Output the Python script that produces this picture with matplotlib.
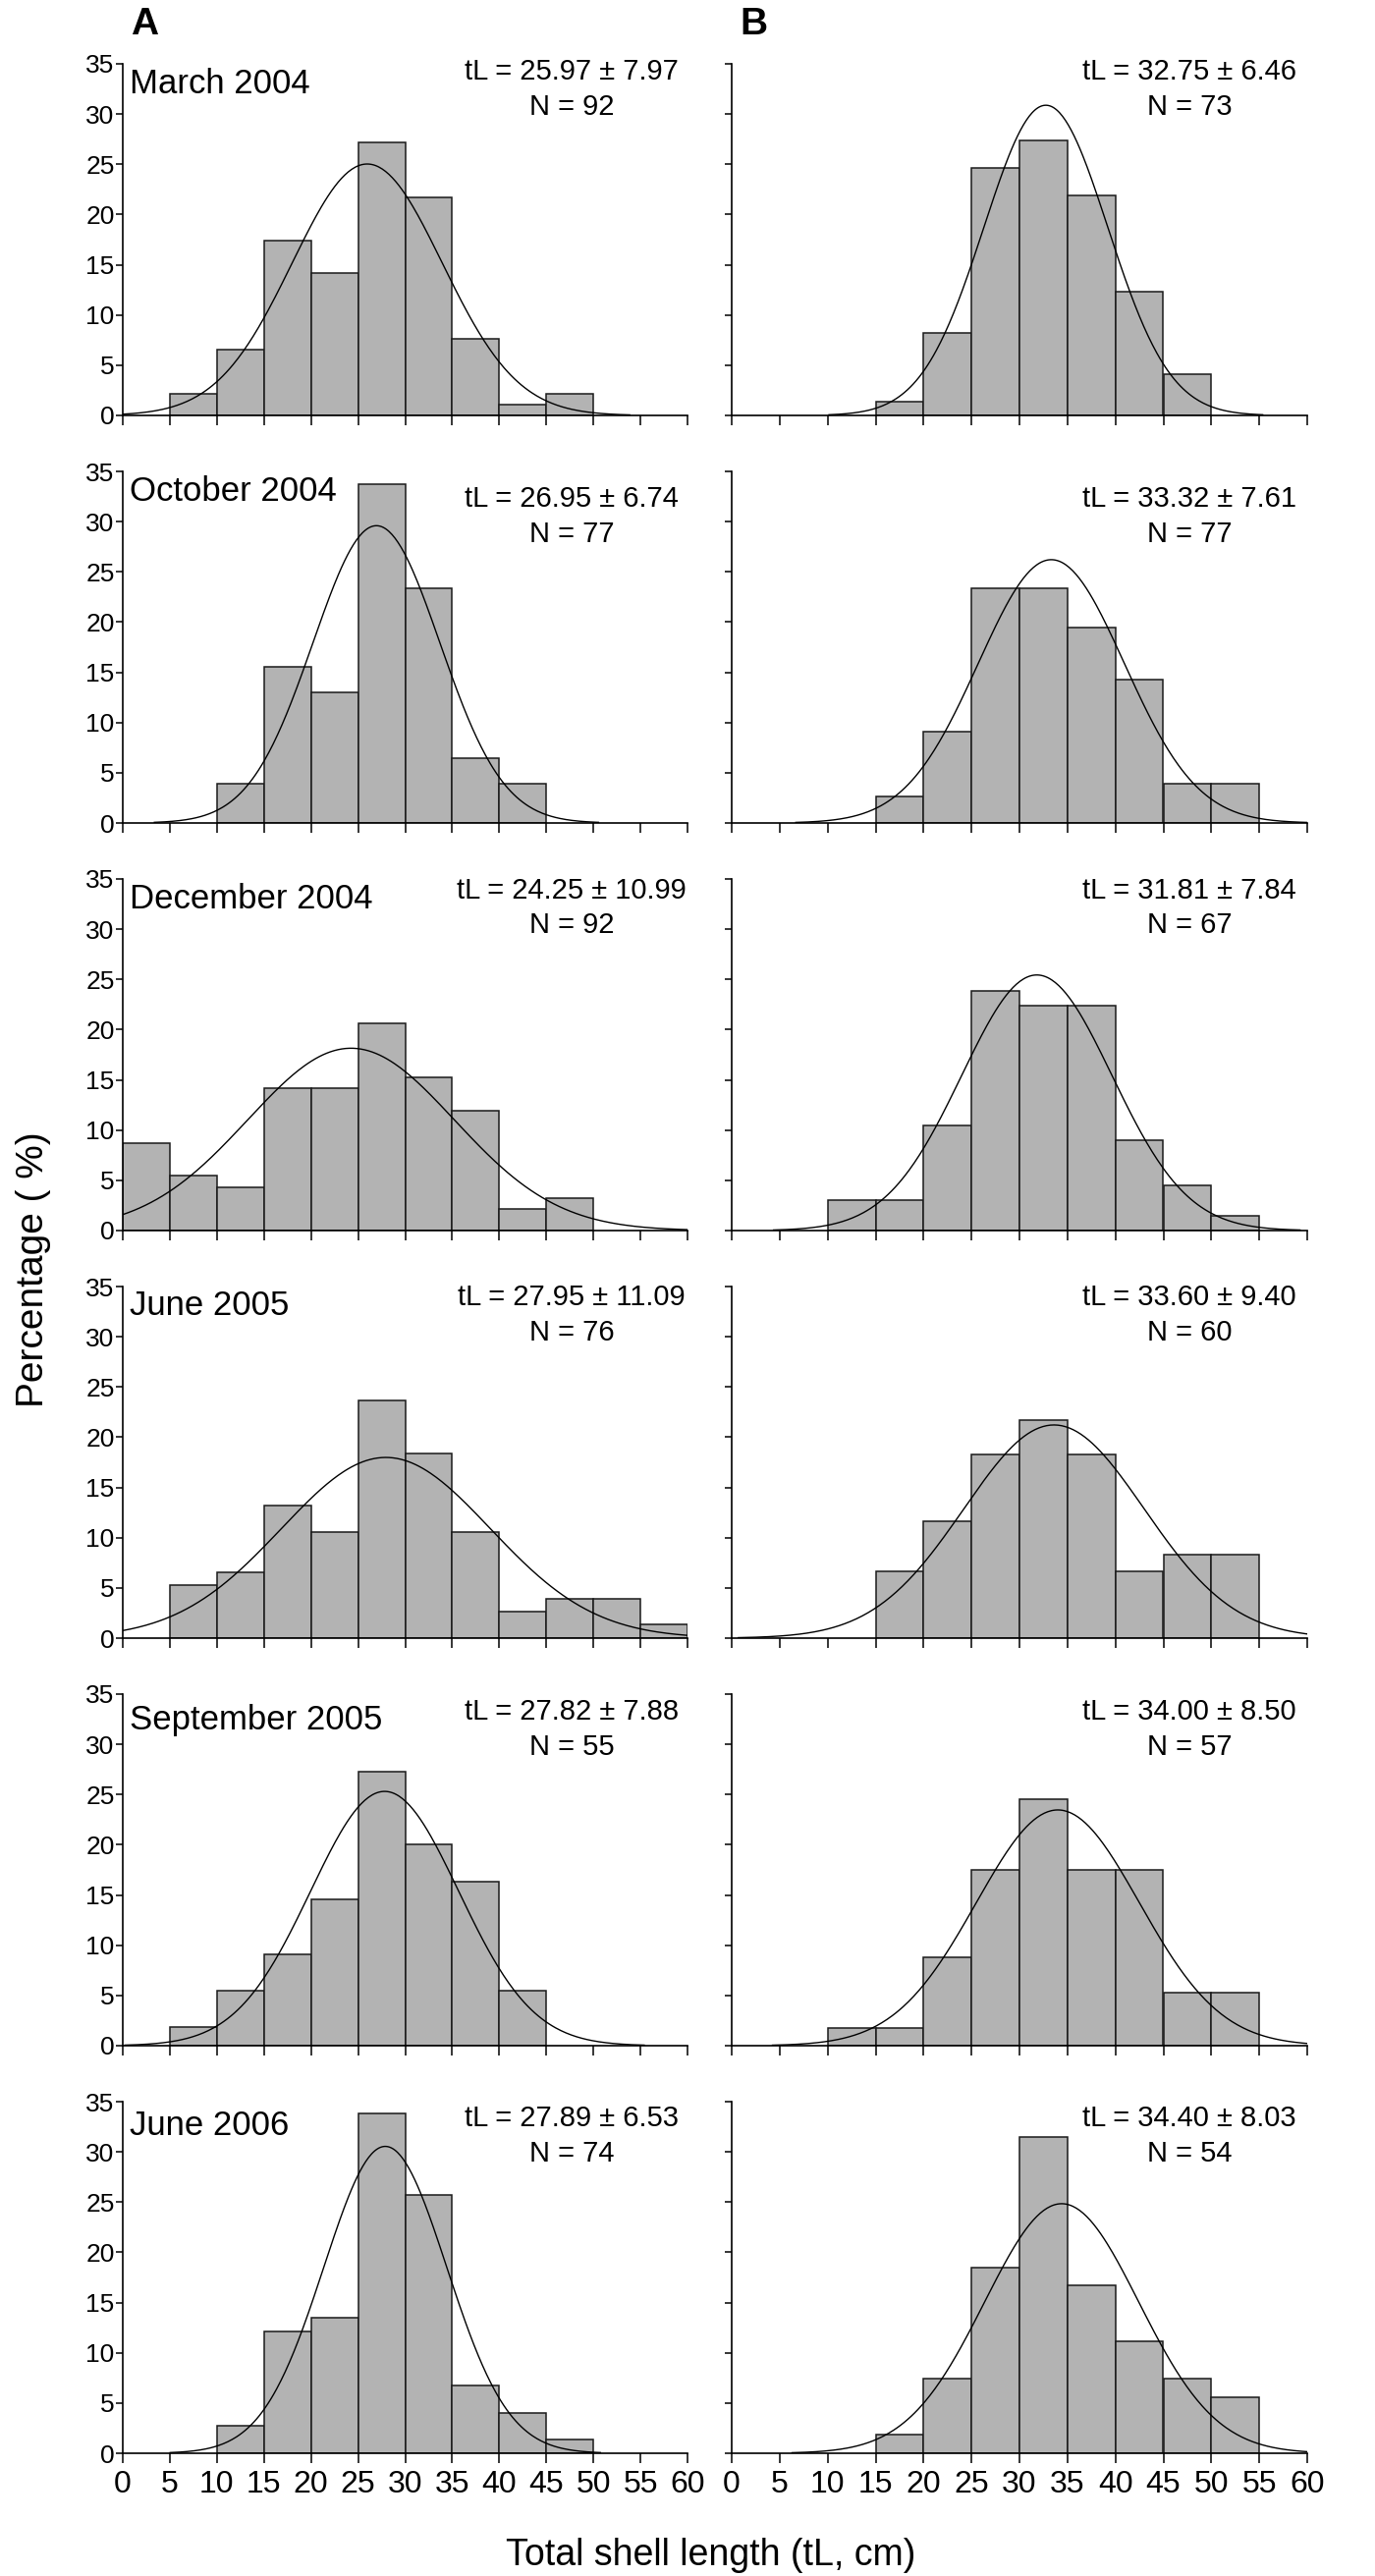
import numpy as np
import matplotlib.pyplot as plt

plt.rcParams['font.family'] = ['Liberation Sans', 'DejaVu Sans']

# 5 cm length classes, 0-5 ... 55-60
bin_edges = np.arange(0, 65, 5)
x_ticks = np.arange(0, 65, 5)
y_ticks = np.arange(0, 40, 5)

months = ['March 2004', 'October 2004', 'December 2004',
          'June 2005', 'September 2005', 'June 2006']

# percentage per length class, column A
pct_a = [
    [0, 2.17, 6.52, 17.39, 14.13, 27.17, 21.74, 7.61, 1.09, 2.17, 0, 0],
    [0, 0, 3.90, 15.58, 12.99, 33.77, 23.38, 6.49, 3.90, 0, 0, 0],
    [8.70, 5.43, 4.35, 14.13, 14.13, 20.65, 15.22, 11.96, 2.17, 3.26, 0, 0],
    [0, 5.26, 6.58, 13.16, 10.53, 23.68, 18.42, 10.53, 2.63, 3.95, 3.95, 1.32],
    [0, 1.82, 5.45, 9.09, 14.55, 27.27, 20.00, 16.36, 5.45, 0, 0, 0],
    [0, 0, 2.70, 12.16, 13.51, 33.78, 25.68, 6.76, 4.05, 1.35, 0, 0],
]
# percentage per length class, column B
pct_b = [
    [0, 0, 0, 1.37, 8.22, 24.66, 27.40, 21.92, 12.33, 4.11, 0, 0],
    [0, 0, 0, 2.60, 9.09, 23.38, 23.38, 19.48, 14.29, 3.90, 3.90, 0],
    [0, 0, 2.99, 2.99, 10.45, 23.88, 22.39, 22.39, 8.96, 4.48, 1.49, 0],
    [0, 0, 0, 6.67, 11.67, 18.33, 21.67, 18.33, 6.67, 8.33, 8.33, 0],
    [0, 0, 1.75, 1.75, 8.77, 17.54, 24.56, 17.54, 17.54, 5.26, 5.26, 0],
    [0, 0, 0, 1.85, 7.41, 18.52, 31.48, 16.67, 11.11, 7.41, 5.56, 0],
]

mean_a = [25.97, 26.95, 24.25, 27.95, 27.82, 27.89]
sd_a = [7.97, 6.74, 10.99, 11.09, 7.88, 6.53]
n_a = [92, 77, 92, 76, 55, 74]

mean_b = [32.75, 33.32, 31.81, 33.60, 34.00, 34.40]
sd_b = [6.46, 7.61, 7.84, 9.40, 8.50, 8.03]
n_b = [73, 77, 67, 60, 57, 54]

# layout (pixels of the 1400 x 2623 figure)
W, H = 1400, 2623
row_bottom_px = [423, 838, 1253, 1668, 2083, 2498]
ax_h_px = 358
col_x_px = [125, 745]
col_w_px = [575, 586]
title_y = [0.915, 0.917, 0.917, 0.92, 0.9, 0.905]
stat_y = [0.955, 0.90, 0.945, 0.946, 0.926, 0.93]

fig = plt.figure(figsize=(W / 100, H / 100), dpi=100)


def draw_panel(ax, pct, mu, sd, n, row, title=None, bottom=False, left=True):
    heights = np.array(pct)
    keep = heights > 0
    ax.bar(bin_edges[:-1][keep], heights[keep], width=5, align='edge',
           color='#b3b3b3', edgecolor='#1a1a1a', linewidth=1.1, zorder=2)
    # fitted normal curve (scaled to % per 5 cm class)
    lo = max(0, mu - 3.5 * sd)
    hi = min(60, mu + 3.5 * sd)
    xs = np.linspace(lo, hi, 300)
    ys = 100 * 5 * np.exp(-0.5 * ((xs - mu) / sd) ** 2) / (sd * np.sqrt(2 * np.pi))
    ax.plot(xs, ys, color='black', linewidth=1.0, zorder=3)

    ax.set_xlim(0, 60)
    ax.set_ylim(0, 35)
    ax.set_xticks(x_ticks)
    ax.set_yticks(y_ticks)
    for s in ['top', 'right']:
        ax.spines[s].set_visible(False)
    for s in ['left', 'bottom']:
        ax.spines[s].set_linewidth(1.2)
    ax.tick_params(axis='x', direction='out', length=7, width=1.1,
                   labelsize=23, labelbottom=bottom, pad=5)
    ax.tick_params(axis='y', direction='out', length=5, width=1.1,
                   labelsize=19, labelleft=left, pad=1)

    if title:
        ax.text(0.012, title_y[row], title, transform=ax.transAxes,
                fontsize=25, ha='left', va='baseline')
    cx = 0.795
    ax.text(cx, stat_y[row], f'tL = {mu:.2f} ± {sd:.2f}', transform=ax.transAxes,
            fontsize=21, ha='center', va='baseline')
    ax.text(cx, stat_y[row] - 0.1, f'N = {n}', transform=ax.transAxes,
            fontsize=21, ha='center', va='baseline')


for row in range(6):
    b = 1 - row_bottom_px[row] / H
    h = ax_h_px / H
    ax_a = fig.add_axes([col_x_px[0] / W, b, col_w_px[0] / W, h])
    draw_panel(ax_a, pct_a[row], mean_a[row], sd_a[row], n_a[row], row,
               title=months[row], bottom=(row == 5), left=True)
    ax_b = fig.add_axes([col_x_px[1] / W, b, col_w_px[1] / W, h])
    draw_panel(ax_b, pct_b[row], mean_b[row], sd_b[row], n_b[row], row,
               bottom=(row == 5), left=False)

fig.text(147 / W, 1 - 25 / H, 'A', fontsize=28, fontweight='bold',
         ha='center', va='center')
fig.text(767 / W, 1 - 25 / H, 'B', fontsize=28, fontweight='bold',
         ha='center', va='center')
fig.text(0.024, 0.507, 'Percentage ( %)', rotation=90, fontsize=28,
         ha='center', va='center')
fig.text(0.517, 0.008, 'Total shell length (tL, cm)', fontsize=27,
         ha='center', va='center')

fig.savefig('out.png', dpi=100)
